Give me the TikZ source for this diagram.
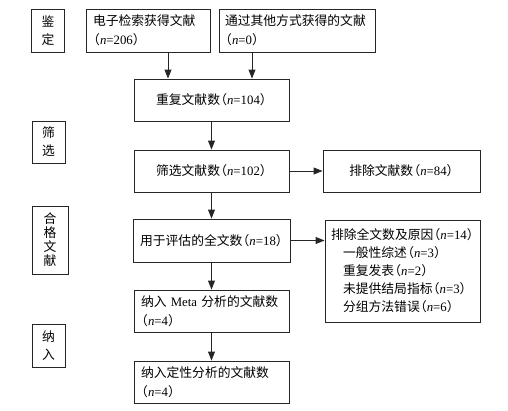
\documentclass[tikz,border=0pt]{standalone}
\usepackage{fontspec}
\setmainfont{Liberation Serif}
\newfontfamily\cjk{Noto Sans CJK SC}
\usetikzlibrary{arrows.meta}
\colorlet{lnx}{black!85}
\newcommand{\numn}[1]{\hspace*{-.45em}（\textrm{\textit{n}=#1}）\kern-.45em}
\tikzset{
    boxx/.style={draw=lnx,line width=0.9pt,inner xsep=7pt,inner ysep=0pt,minimum height=42pt,font=\cjk\fontsize{12.8}{18}\selectfont},
    wide/.style={boxx,minimum width=155pt},
    twol/.style={boxx,align=left,text width=#1,execute at begin node=\setlength{\baselineskip}{19pt}},
    stagex/.style={boxx,align=center,minimum width=33pt,inner xsep=0pt},
    arx/.style={lnx,line width=0.9pt,-{Triangle[length=9pt,width=7pt]}}
}

\begin{document}
\begin{tikzpicture}[x=1pt,y=-1pt]
            \useasboundingbox (0,0) rectangle (508,410);
            % stages on the left
            \node [stagex,minimum height=43pt] (jd) at (48,30.5) {鉴\\定};
            \node [stagex] (sx) at (48.5,142) {筛\\选};
            \node [stagex,minimum width=36pt,minimum height=68pt,font=\cjk\fontsize{12.8}{14}\selectfont] (hg) at (50,240) {合\\格\\文\\献};
            \node [stagex,minimum height=43pt] (nr) at (48.5,345.5) {纳\\入};
            % flow
            \node [twol=110pt,minimum height=43pt] (src) at (148,30.5) {电子检索获得文献\\\numn{206}};
            \node [twol=144pt,inner xsep=6pt,minimum height=43pt] (oth) at (297,30.5) {通过其他方式获得的文献\\\numn{0}};
            \node [wide] (dup) at (211.5,100) {重复文献数\numn{104}};
            \node [wide] (scr) at (211.5,171) {筛选文献数\numn{102}};
            \node [boxx,minimum width=157pt] (exc) at (401.5,171) {排除文献数\numn{84}};
            \node [wide,minimum height=43pt] (full) at (211.5,240.5) {用于评估的全文数\numn{18}};
            \node [twol=143pt,inner xsep=6pt,minimum height=102pt,execute at begin node=\setlength{\baselineskip}{18pt}] (exf) at (402.5,271) {排除全文数及原因\numn{14}\\
                \hspace*{12pt}一般性综述\numn{3}\\
                \hspace*{12pt}重复发表\numn{2}\\
                \hspace*{12pt}未提供结局指标\numn{3}\\
                \hspace*{12pt}分组方法错误\numn{6}};
            \node [twol=141pt] (meta) at (211.5,311) {纳入 \textrm{Meta} 分析的文献数\\\numn{4}};
            \node [twol=141pt] (qual) at (211.5,382) {纳入定性分析的文献数\\\numn{4}};
            % arrows
            \draw [arx] ([xshift=20pt]src.south) -- ([xshift=20pt]src.south |- dup.north);
            \draw [arx] ([xshift=-45pt]oth.south) -- ([xshift=-45pt]oth.south |- dup.north);
            \foreach \u/\v in {dup/scr,scr/full,full/meta,meta/qual} {
                \draw [arx] (\u) -- (\v);
            }
            \draw [arx] (scr) -- (exc);
            \draw [arx] (full.east) -- (full.east -| exf.west);
        \end{tikzpicture}
\end{document}
